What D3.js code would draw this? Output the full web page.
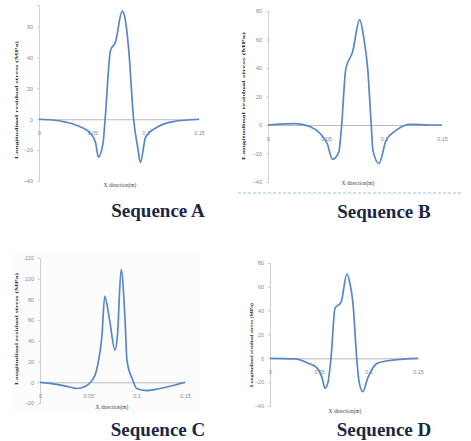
<!DOCTYPE html>
<html>
<head>
<meta charset="utf-8">
<script src="https://cdn.jsdelivr.net/npm/d3@7"></script>
<style>
  body { margin: 0; background: #fff; }
  svg { display: block; }
</style>
</head>
<body>
<div id="chart"></div>
<script>
var width = 471, height = 441;

// data (x in m, stress in MPa)
var seqA_x = [0, 0.013, 0.026, 0.039, 0.048, 0.053, 0.0557, 0.060, 0.062, 0.067, 0.0717, 0.078, 0.081, 0.084, 0.0887, 0.0925, 0.095, 0.100, 0.111, 0.126, 0.15];
var seqA_y = [0, -0.5, -2, -5, -9, -15, -24.5, -15.5, 0, 44.5, 50, 70, 64, 46, 0, -18, -28, -11.5, -5, -1.5, 0];

var seqB_x = [0, 0.0235, 0.036, 0.045, 0.051, 0.0557, 0.061, 0.0635, 0.067, 0.073, 0.079, 0.0826, 0.086, 0.089, 0.0905, 0.0957, 0.1017, 0.11, 0.122, 0.139, 0.15];
var seqB_y = [0, 1, -1, -6, -13, -24, -19, 0, 39, 51.5, 74, 61, 39, 0, -18, -27, -11, -4, 0.5, 0, 0];

var seqC_x = [0, 0.0103, 0.028, 0.038, 0.0466, 0.05, 0.057, 0.06, 0.064, 0.067, 0.072, 0.0776, 0.08, 0.084, 0.088, 0.09, 0.096, 0.1, 0.11, 0.124, 0.142, 0.15];
var seqC_y = [0, -1, -4, -6, -4, -2, 7, 18, 44, 83, 60, 31, 44, 109, 60, 21, 2, -6, -8, -6, -2, 0];

var seqD_x = [0, 0.0253, 0.0385, 0.0476, 0.0527, 0.0557, 0.0588, 0.0618, 0.0659, 0.072, 0.078, 0.081, 0.084, 0.088, 0.090, 0.094, 0.0993, 0.109, 0.124, 0.15];
var seqD_y = [0, -0.5, -4, -8, -16, -25, -20, 0, 42, 47, 71, 63, 47, -1, -18, -28, -16, -4, -1.5, 0];

var xTicks = [0, 0.05, 0.1, 0.15];
var yTicksA = [-40, -20, 0, 20, 40, 60];
var yTicksB = [-40, -20, 0, 20, 40, 60, 80];
var yTicksC = [-20, 0, 20, 40, 60, 80, 100, 120];
var yTicksD = [-40, -20, 0, 20, 40, 60, 80];

var titles = ["Sequence A", "Sequence B", "Sequence C", "Sequence D"];
var xTitle = "X direction(m)";
var yTitle = "Longitudinal residual stress (MPa)";

var svg = d3.select("#chart").append("svg")
    .attr("width", width)
    .attr("height", height);

// panel placement (pixels)
var panels = [
  { xs: seqA_x, ys: seqA_y, yt: yTicksA, yDom: [-40, 74], xr: [39, 199], yr: [181, 5],
    yTitle: [18, 100, 118], xTitleAt: [120, 187], label: [158, 217] },
  { xs: seqB_x, ys: seqB_y, yt: yTicksB, yDom: [-40, 80], xr: [268, 442], yr: [182, 11],
    yTitle: [245, 96, 128], xTitleAt: [358, 185], label: [384, 218] },
  { xs: seqC_x, ys: seqC_y, yt: yTicksC, yDom: [-20, 120], xr: [40, 185], yr: [403, 258],
    yTitle: [18, 329, 112], xTitleAt: [112, 409], label: [158, 436] },
  { xs: seqD_x, ys: seqD_y, yt: yTicksD, yDom: [-40, 80], xr: [270, 418], yr: [406, 263],
    yTitle: [253, 345, 84], xTitleAt: [345, 413], label: [384, 436] }
];

// faint plot backdrop behind panel C
svg.append("rect")
    .attr("x", 13).attr("y", 253)
    .attr("width", 188).attr("height", 160)
    .attr("fill", "#fcfcfc");

panels.forEach(function(p, i) {
  var x = d3.scaleLinear().domain([0, 0.15]).range(p.xr);
  var y = d3.scaleLinear().domain(p.yDom).range(p.yr);
  var g = svg.append("g");

  // vertical axis
  var ay = g.append("g")
      .attr("transform", "translate(" + p.xr[0] + ",0)")
      .call(d3.axisLeft(y).tickValues(p.yt).tickSize(2).tickPadding(4)
            .tickFormat(d3.format("d")));
  ay.select(".domain").attr("stroke", "#d0d0d0");
  ay.selectAll(".tick line").attr("stroke", "#d0d0d0");
  ay.selectAll("text").attr("fill", "#8a8a8a").style("font", "5.5px 'Liberation Sans', sans-serif");

  // horizontal axis through zero
  var ax = g.append("g")
      .attr("transform", "translate(0," + y(0) + ")")
      .call(d3.axisBottom(x).tickValues(xTicks).tickSize(0).tickPadding(12)
            .tickFormat(function(d) { return d === 0 ? "0" : String(d); }));
  ax.select(".domain").attr("stroke", "#a8a8a8").attr("stroke-width", 0.8);
  ax.selectAll("text").attr("fill", "#8a8a8a").style("font", "5.5px 'Liberation Sans', sans-serif");

  // curve
  var pts = p.xs.map(function(v, k) { return [v, p.ys[k]]; });
  g.append("path")
      .datum(pts)
      .attr("fill", "none")
      .attr("stroke", "#5687c8")
      .attr("stroke-width", 1.7)
      .attr("stroke-linejoin", "round")
      .attr("d", d3.line()
          .x(function(d) { return x(d[0]); })
          .y(function(d) { return y(d[1]); })
          .curve(d3.curveMonotoneX));

  // axis titles
  g.append("text")
      .attr("transform", "translate(" + p.yTitle[0] + "," + p.yTitle[1] + ") rotate(-90)")
      .attr("text-anchor", "middle")
      .attr("textLength", p.yTitle[2])
      .attr("lengthAdjust", "spacingAndGlyphs")
      .attr("fill", "#333")
      .style("font", "bold 5px 'Liberation Serif', serif")
      .text(yTitle);

  g.append("text")
      .attr("x", p.xTitleAt[0]).attr("y", p.xTitleAt[1])
      .attr("text-anchor", "middle")
      .attr("fill", "#444")
      .style("font", "5.5px 'Liberation Serif', serif")
      .text(xTitle);

  // panel caption
  g.append("text")
      .attr("x", p.label[0]).attr("y", p.label[1])
      .attr("text-anchor", "middle")
      .attr("fill", "#1c2744")
      .style("font", "bold 19px 'Liberation Serif', serif")
      .text(titles[i]);
});

// dashed separator under panel B
svg.append("line")
    .attr("x1", 238).attr("x2", 462)
    .attr("y1", 193).attr("y2", 193)
    .attr("stroke", "#9dbde3")
    .attr("stroke-width", 1)
    .attr("stroke-dasharray", "3,2");
</script>
</body>
</html>
